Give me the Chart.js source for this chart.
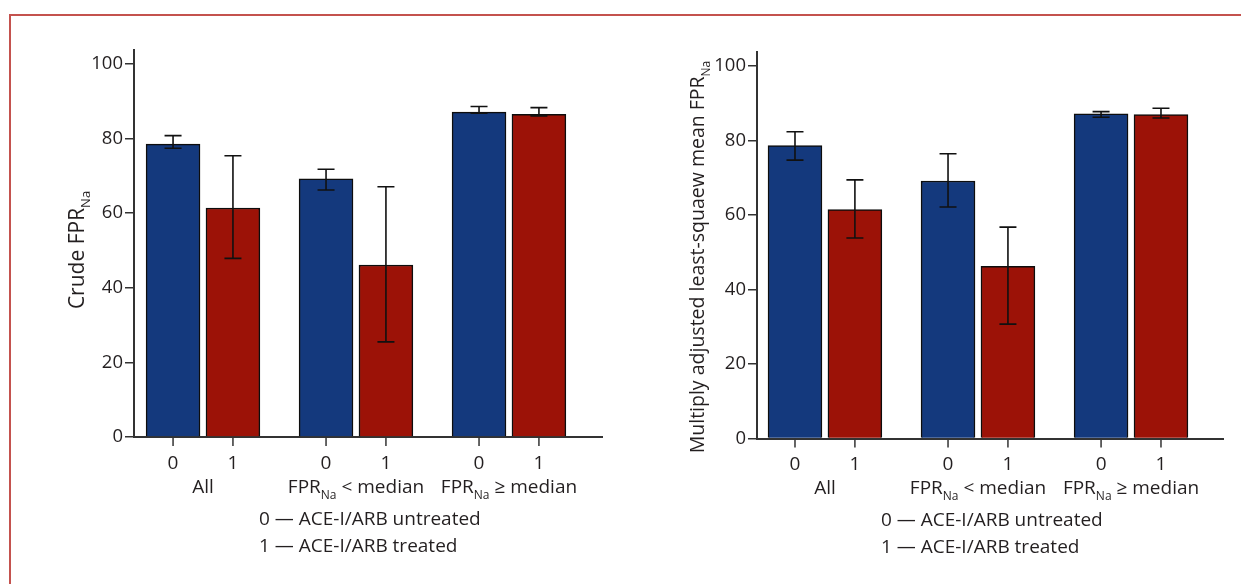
<!DOCTYPE html>
<html>
<head>
<meta charset="utf-8">
<script src="https://cdn.jsdelivr.net/npm/chart.js@4.4.1/dist/chart.umd.min.js"></script>
<style>
  html, body { margin: 0; padding: 0; background: #fff; }
  body { width: 1241px; height: 584px; position: relative; overflow: hidden; }
  #frame { position: absolute; left: 9px; top: 14px; width: 1240px; height: 580px;
           border-top: 2px solid #c4524e; border-left: 2px solid #c4524e; }
  #c1 { position: absolute; left: 0; top: 0; }
  #c2 { position: absolute; left: 620px; top: 0; }
</style>
</head>
<body>
<div id="frame"></div>
<canvas id="c1" width="620" height="584"></canvas>
<canvas id="c2" width="621" height="584"></canvas>
<script>
// ---------- data ----------
const groupLabels = ['All', 'FPR_{Na} < median', 'FPR_{Na} \u2265 median'];
const treatmentTicks = ['0', '1'];
const legendLines = ['0 \u2014 ACE-I/ARB untreated', '1 \u2014 ACE-I/ARB treated'];
const yTicks = [0, 20, 40, 60, 80, 100];

// Crude FPR_Na
const crudeUntreated = [78.5, 69.2, 87.1];
const crudeUntreatedLow = [77.4, 66.2, 86.8];
const crudeUntreatedHigh = [80.8, 71.8, 88.6];
const crudeTreated = [61.4, 46.1, 86.5];
const crudeTreatedLow = [47.9, 25.5, 86.1];
const crudeTreatedHigh = [75.4, 67.1, 88.3];

// Multiply adjusted least-squares mean FPR_Na
const adjUntreated = [78.6, 69.1, 87.1];
const adjUntreatedLow = [74.7, 62.1, 86.2];
const adjUntreatedHigh = [82.3, 76.4, 87.7];
const adjTreated = [61.4, 46.2, 86.9];
const adjTreatedLow = [53.8, 30.7, 86.0];
const adjTreatedHigh = [69.4, 56.7, 88.6];

const leftTitle = 'Crude FPR_{Na}';
const rightTitle = 'Multiply adjusted least-squaew mean FPR_{Na}';

// ---------- styles ----------
const FONT = '"Open Sans", "Noto Sans", sans-serif';
const TEXT = '#231f20';
const AXIS = '#333333';
const BLUE = '#14397d';
const RED = '#9c1207';
const LABEL_SIZE = 19;

function parseRich(s) {
  const parts = [];
  const re = /_\{([^}]*)\}/g;
  let last = 0, m;
  while ((m = re.exec(s))) {
    if (m.index > last) parts.push({ t: s.slice(last, m.index), sub: false });
    parts.push({ t: m[1], sub: true });
    last = re.lastIndex;
  }
  if (last < s.length) parts.push({ t: s.slice(last), sub: false });
  return parts;
}

function drawRich(ctx, s, x, y, align, size) {
  const parts = parseRich(s);
  const subSize = Math.round(size * 0.62);
  let w = 0;
  parts.forEach(p => {
    ctx.font = (p.sub ? subSize : size) + 'px ' + FONT;
    p.w = ctx.measureText(p.t).width;
    w += p.w;
  });
  let cx = align === 'center' ? x - w / 2 : (align === 'right' ? x - w : x);
  ctx.textAlign = 'left';
  ctx.textBaseline = 'alphabetic';
  ctx.fillStyle = TEXT;
  const base = y + size * 0.36;
  parts.forEach(p => {
    ctx.font = (p.sub ? subSize : size) + 'px ' + FONT;
    ctx.fillText(p.t, cx, p.sub ? base + size * 0.3 : base);
    cx += p.w;
  });
}

function makeDecorPlugin(lows, highs, title, titleX, titleY, titleSize) {
  return {
    id: 'decor',
    afterDatasetsDraw(chart) {
      const ctx = chart.ctx;
      const yS = chart.scales.y;
      const xS = chart.scales.x;
      const area = chart.chartArea;
      ctx.save();
      // error bars
      chart.data.datasets.forEach((ds, di) => {
        const meta = chart.getDatasetMeta(di);
        meta.data.forEach((bar, i) => {
          const x = bar.x;
          const yl = yS.getPixelForValue(lows[di][i]);
          const yh = yS.getPixelForValue(highs[di][i]);
          ctx.strokeStyle = '#111';
          ctx.lineWidth = 1.6;
          ctx.beginPath();
          ctx.moveTo(x, yl); ctx.lineTo(x, yh);
          ctx.moveTo(x - 8.5, yl); ctx.lineTo(x + 8.5, yl);
          ctx.moveTo(x - 8.5, yh); ctx.lineTo(x + 8.5, yh);
          ctx.stroke();
        });
      });
      // x ticks and labels
      const bottom = area.bottom;
      chart.data.datasets.forEach((ds, di) => {
        const meta = chart.getDatasetMeta(di);
        meta.data.forEach(bar => {
          ctx.strokeStyle = AXIS;
          ctx.lineWidth = 1.5;
          ctx.beginPath();
          ctx.moveTo(bar.x, bottom);
          ctx.lineTo(bar.x, bottom + 9);
          ctx.stroke();
          drawRich(ctx, treatmentTicks[di], bar.x, bottom + 25, 'center', LABEL_SIZE);
        });
      });
      groupLabels.forEach((g, i) => {
        drawRich(ctx, g, xS.getPixelForValue(i), bottom + 49, 'center', LABEL_SIZE);
      });
      const legX = xS.getPixelForValue(1) - 97;
      legendLines.forEach((l, i) => {
        drawRich(ctx, l, legX, bottom + 81 + i * 27, 'left', LABEL_SIZE);
      });
      // y title
      ctx.translate(titleX, titleY);
      ctx.rotate(-Math.PI / 2);
      drawRich(ctx, title, 0, 0, 'center', titleSize);
      ctx.restore();
    }
  };
}

function makeChart(id, untreated, treated, lows, highs, title, opts) {
  const toPts = arr => arr.map((v, i) => ({ x: i, y: v }));
  return new Chart(document.getElementById(id), {
    type: 'bar',
    data: {
      datasets: [
        { data: toPts(untreated), backgroundColor: BLUE, borderColor: '#0d0d0d', borderWidth: 1.5 },
        { data: toPts(treated), backgroundColor: RED, borderColor: '#0d0d0d', borderWidth: 1.5 }
      ]
    },
    options: {
      responsive: false,
      animation: false,
      devicePixelRatio: 1,
      barThickness: 'flex',
      categoryPercentage: 0.783,
      barPercentage: 0.9,
      layout: { padding: { left: 0, top: opts.top, right: opts.right, bottom: opts.bottom } },
      plugins: { legend: { display: false }, tooltip: { enabled: false } },
      scales: {
        x: {
          type: 'linear',
          offset: false,
          min: opts.xmin, max: opts.xmax,
          afterBuildTicks: s => { s.ticks = groupLabels.map((g, i) => ({ value: i })); },
          afterFit: s => { s.height = 0; },
          ticks: { display: false },
          grid: { display: false, drawTicks: false, offset: false },
          border: { display: true, color: AXIS, width: 2 }
        },
        y: {
          min: 0, max: opts.ymax,
          afterFit: s => { s.width = opts.axisX; },
          afterBuildTicks: s => { s.ticks = yTicks.map(v => ({ value: v })); },
          ticks: { padding: 2, color: TEXT, font: { family: FONT, size: 18.5 } },
          grid: { display: true, drawOnChartArea: false, drawTicks: true, tickLength: 9, tickColor: AXIS, tickWidth: 1.5, lineWidth: 1.5, color: AXIS },
          border: { display: true, color: AXIS, width: 2 }
        }
      }
    },
    plugins: [makeDecorPlugin(lows, highs, title, opts.titleX, opts.titleY, opts.titleSize)]
  });
}

makeChart('c1', crudeUntreated, crudeTreated,
  [crudeUntreatedLow, crudeTreatedLow], [crudeUntreatedHigh, crudeTreatedHigh], leftTitle,
  { top: 50, bottom: 147, right: 18, axisX: 134, xmin: -0.451, xmax: 2.608, ymax: 103.75, titleX: 76, titleY: 250, titleSize: 21 });

makeChart('c2', adjUntreated, adjTreated,
  [adjUntreatedLow, adjTreatedLow], [adjUntreatedHigh, adjTreatedHigh], rightTitle,
  { top: 52, bottom: 145.5, right: 18, axisX: 137, xmin: -0.444, xmax: 2.601, ymax: 103.7, titleX: 77, titleY: 257, titleSize: 19.5 });
</script>
</body>
</html>
